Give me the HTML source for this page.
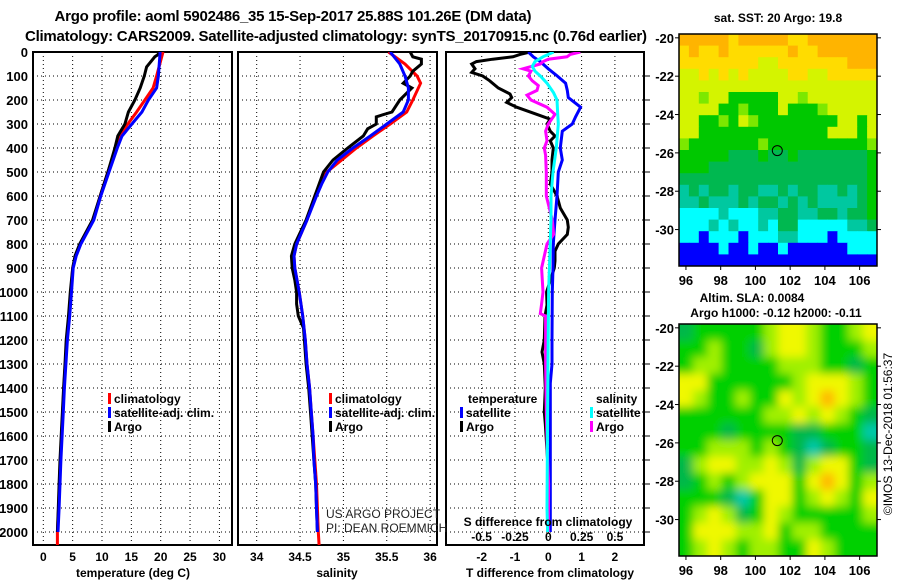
<!DOCTYPE html>
<html><head><meta charset="utf-8">
<style>
html,body{margin:0;padding:0;background:#fff;}
svg{display:block;font-family:"Liberation Sans",sans-serif;}
.b{font-weight:bold;font-size:12px;}
.t{font-weight:bold;font-size:15px;}
</style></head>
<body>
<svg id="fig" width="900" height="580" viewBox="0 0 900 580" xmlns="http://www.w3.org/2000/svg">
<defs>
<clipPath id="c1"><rect x="33" y="52" width="199" height="493"/></clipPath>
<clipPath id="c2"><rect x="238" y="52" width="199" height="493"/></clipPath>
<clipPath id="c3"><rect x="446" y="52" width="198" height="493"/></clipPath>
<clipPath id="cm2"><rect x="679" y="324" width="198" height="232"/></clipPath>
<filter id="blur" x="-10%" y="-10%" width="120%" height="120%"><feGaussianBlur stdDeviation="4.5"/></filter>
</defs>
<text class="t" x="293" y="21" text-anchor="middle" textLength="477">Argo profile: aoml 5902486_35 15-Sep-2017 25.88S 101.26E (DM data)</text>
<text class="t" x="336" y="41" text-anchor="middle" textLength="622">Climatology: CARS2009. Satellite-adjusted climatology: synTS_20170915.nc (0.76d earlier)</text>
<g id="g1"></g>
<g id="g2"></g>
<g id="g3"></g>
<g id="m1"></g>
<g id="m2"></g>
<text class="b" x="778" y="22" text-anchor="middle" font-size="13">sat. SST: 20 Argo: 19.8</text>
<text class="b" x="752" y="302" text-anchor="middle">Altim. SLA: 0.0084</text>
<text class="b" x="776" y="317" text-anchor="middle">Argo h1000: -0.12 h2000: -0.11</text>
<text x="892" y="434" font-size="12" text-anchor="middle" transform="rotate(-90 892 434)">©IMOS 13-Dec-2018 01:56:37</text>
<text x="326" y="518" font-size="12" fill="#222">US ARGO PROJECT</text>
<text x="326" y="532" font-size="12" fill="#222">PI: DEAN ROEMMICH</text>
</svg>
<script>
// ---------- data ----------
const depthTicks=[0,100,200,300,400,500,600,700,800,900,1000,1100,1200,1300,1400,1500,1600,1700,1800,1900,2000];
const tempTicks=[0,5,10,15,20,25,30];
const salTicks=[34,34.5,35,35.5,36];
const tdiffTicks=[-2,-1,0,1,2];
const sdiffTicks=[-0.5,-0.25,0,0.25,0.5];
const sdiffLabels=["-0.5","-0.25","0","0.25","0.5"];

const tClimD=[0,100,150,200,250,300,350,400,500,600,700,800,850,900,1000,1100,1200,1300,1400,1500,1600,1700,1800,1900,2000,2055];
const tClimV=[20.4,19.3,18.7,17.3,15.9,14.4,13.1,12.4,11,9.7,8.5,6.3,5.5,5.0,4.7,4.4,4.0,3.75,3.5,3.3,3.1,2.9,2.75,2.6,2.4,2.4];
const tSatD=[0,100,150,200,250,300,350,400,500,600,700,800,850,900,1000,1100,1200,1300,1400,1500,1600,1700,1800,1900,2000];
const tSatV=[19.9,19.6,19.3,17.9,16.8,15.1,13.4,12.6,11.2,9.8,8.6,6.4,5.6,5.1,4.8,4.5,4.1,3.85,3.6,3.4,3.2,3.0,2.85,2.7,2.5];
const tArgoD=[0,10,20,62,100,150,200,250,300,350,400,500,600,700,800,850,900,1000,1100,1200,1300,1400,1500,1600,1700,1800,1900,2000];
const tArgoV=[19.6,19.6,19.0,17.6,17.2,16.5,15.6,14.5,13.9,12.7,12.2,11,9.7,8.4,6.2,5.4,5.0,4.6,4.3,3.9,3.7,3.45,3.25,3.05,2.85,2.7,2.55,2.4];

const sClimD=[0,50,100,130,200,250,300,350,400,450,500,550,600,700,800,850,900,1000,1100,1200,1300,1400,1500,1600,1700,1800,1900,2000,2055];
const sClimV=[35.52,35.71,35.85,35.89,35.8,35.73,35.54,35.34,35.15,34.98,34.81,34.73,34.67,34.58,34.46,34.43,34.44,34.49,34.53,34.56,34.58,34.61,34.63,34.65,34.67,34.69,34.7,34.71,34.72];
const sSatD=[0,50,100,150,200,250,300,350,400,450,500,550,600,700,800,850,900,1000,1100,1200,1300,1400,1500,1600,1700,1800,1900,2000];
const sSatV=[35.54,35.65,35.71,35.75,35.75,35.69,35.5,35.31,35.11,34.93,34.82,34.75,34.69,34.58,34.46,34.43,34.44,34.49,34.53,34.56,34.58,34.61,34.63,34.65,34.66,34.68,34.69,34.7];
const sArgoD=[0,20,30,50,80,100,130,150,200,250,270,300,320,350,400,450,500,600,700,800,850,900,950,1000,1050,1100,1150,1200,1300,1400,1500,1600,1700,1800,1900,2000];
const sArgoV=[35.77,35.8,35.9,35.9,35.8,35.77,35.69,35.79,35.65,35.56,35.38,35.38,35.28,35.23,35.05,34.88,34.77,34.67,34.57,34.44,34.4,34.41,34.44,34.46,34.46,34.48,34.54,34.55,34.57,34.6,34.62,34.64,34.66,34.68,34.69,34.7];

const dtSatD=[0,20,40,70,100,130,160,190,230,270,300,330,400,450,500,600,700,800,900,1000,1200,1300,1380,1600,1800,2000];
const dtSatV=[-0.6,-0.45,-0.24,0,0.27,0.52,0.57,0.6,0.97,0.82,0.72,0.42,0.36,0.42,0.3,0.26,0.2,0.15,0.14,0.12,0.11,0.11,0.06,0.06,0.06,0.06];
const dtArgoD=[0,10,20,30,40,50,70,85,100,120,150,175,190,210,230,260,280,300,330,350,370,400,450,500,550,600,650,700,730,760,800,830,870,900,1000,1054,1100,1200,1250,1300,1400,1500,1550,1700,2000];
const dtArgoV=[-0.55,-0.85,-1.06,-1.67,-2.16,-2.3,-2.2,-2.3,-1.97,-1.76,-1.5,-1.15,-1.1,-1.25,-0.95,-0.34,0.06,-0.04,0.06,0.2,0.06,0.15,0.11,0.11,0.06,0.26,0.36,0.57,0.6,0.57,0.3,0.2,0.2,0.18,-0.05,-0.04,-0.1,-0.12,-0.19,-0.12,-0.09,-0.12,-0.09,-0.02,0.0];
const dsSatD=[0,20,40,60,80,100,130,170,200,250,300,400,500,600,700,900,1000,1500,1900,2000];
const dsSatV=[0.04,-0.04,-0.1,-0.12,-0.1,-0.06,-0.01,0.04,0.065,0.07,0.075,0.06,0.035,0.02,0.02,0.008,0.002,-0.005,-0.01,-0.005];
const dsArgoD=[0,10,20,30,40,50,70,80,100,120,140,160,180,200,230,260,300,330,370,400,430,500,600,700,760,800,900,1000,1050,1090,1100,1150,1300,1500,1700,1800,2000];
const dsArgoV=[0.24,0.165,0.14,0,-0.04,-0.06,-0.19,-0.13,-0.15,-0.12,-0.075,-0.085,-0.16,-0.13,-0.01,0.05,0,-0.02,-0.01,-0.03,-0.02,-0.015,-0.015,0.03,0.04,-0.01,-0.05,-0.04,-0.05,-0.06,-0.02,-0.02,-0.02,-0.015,-0.005,0.002,0.0];

const mapLonTicks=[96,98,100,102,104,106];
const mapLatTicks=[-20,-22,-24,-26,-28,-30];
const argoLon=101.26, argoLat=-25.88;
const sstRows=[
"OOOOOYOOOOOYYOOOOOOO",
"YOYYOYYYYYYOYYOOOOOO",
"YYYYYYYYLLYYYYYYYOOO",
"LLYLYLYLLLLYYLLYYYYY",
"LLLLLLLLLLLLLLLLLLLL",
"LLGLLgggggLLGLLLLLLL",
"LLLLggGgggLgggGLLLLL",
"LLggGgLGggggggggLLgL",
"LLgggggggggggggLLLgL",
"GgggggggGggggggggggG",
"gggggmmmgmmgmmmmmmmg",
"gggmmmmmmmmmmmmmmmmg",
"mmmmmmmmmmmmmmmmmmmg",
"tmtmmtmmttmtmmttmtmg",
"ttmtttmtmmtmtmttttmg",
"cccctcccttmmttmmtmmg",
"ccctctcctcmmcccccttm",
"ccbcccbcccttcccbcccc",
"bbbbcbbcbbcbbbbbbccc",
"bbbbbbbbbbbbbbbbbbbb"];
const slaRows=[
[1,2,2,2,2,2,3,4,4,3,2,2,3,4],
[2,2,3,2,2,1,3,4,4,3,2,2,2,3],
[2,3,3,2,2,2,2,3,3,3,2,2,1,2],
[4,4,2,2,2,2,2,2,3,4,4,4,3,2],
[4,3,2,2,3,2,2,4,3,4,5,4,3,2],
[2,2,2,2,2,2,3,3,4,3,4,3,2,1],
[2,2,2,1,2,2,2,2,1,1,2,2,2,0],
[2,2,3,3,3,2,3,2,1,0,1,2,2,1],
[1,3,4,4,3,3,4,3,1,3,4,4,2,1],
[1,2,3,2,3,4,4,4,2,4,5,4,2,3],
[2,2,2,1,0,2,4,4,2,3,4,3,2,4],
[2,3,4,3,1,2,4,3,2,2,2,2,2,3],
[2,4,4,4,3,3,4,2,3,3,2,2,2,2],
[2,3,4,3,2,3,3,2,2,4,3,2,2,2]];

// ---------- helpers ----------
const NS="http://www.w3.org/2000/svg";
function mk(parent,tag,attrs,txt){const e=document.createElementNS(NS,tag);for(const k in attrs)e.setAttribute(k,attrs[k]);if(txt!==undefined)e.textContent=txt;parent.appendChild(e);return e;}
const TOP=52,BOT=545;
const yD=d=>TOP+d*0.24;
const xT=v=>43.3+v*5.87;
const xS=v=>256.7+(v-34)*86.7;
const xDT=v=>548.3+v*33.3;
const xDS=v=>548.3+v*133.3;

function panel(g,x0,x1,xs,ticks,clip,labels,name){
  for(const d of depthTicks){ if(d===0)continue;
    const l=mk(g,'line',{x1:x0,x2:x1,y1:yD(d),y2:yD(d),stroke:'#000','stroke-width':1,'stroke-dasharray':'1 3'});
    
    
  }
  ticks.forEach(v=>{
    const l=mk(g,'line',{x1:xs(v),x2:xs(v),y1:TOP,y2:BOT,stroke:'#000','stroke-width':1,'stroke-dasharray':'1 3'});
    
    
  });
  const r=mk(g,'rect',{x:x0,y:TOP,width:x1-x0,height:BOT-TOP,fill:'none',stroke:'#000','stroke-width':2});
  
  
}
function series(g,D,V,xs,color,clip,name,w){
  const pts=D.map((d,i)=>xs(V[i]).toFixed(1)+','+yD(d).toFixed(1)).join(' ');
  const p=mk(g,'polyline',{points:pts,fill:'none',stroke:color,'stroke-width':w||3,'clip-path':'url(#'+clip+')','stroke-linejoin':'miter'});
  
  
}
function xlabels(g,ticks,xs,y,labels,name){
  ticks.forEach((v,i)=>{
    const t=mk(g,'text',{x:xs(v),y:y,'text-anchor':'middle',class:'b'},labels?labels[i]:String(v));
    
    
  });
}
function legendEntry(g,x,y,color,label,name){
  const m=mk(g,'rect',{x:x,y:y-10,width:3,height:11,fill:color});
  
  
  const t=mk(g,'text',{x:x+6,y:y,class:'b'},label);
  
  
}

// ---------- panel 1 ----------
const g1=document.getElementById('g1');
panel(g1,33,232,xT,tempTicks,'c1',null,'temperature');
depthTicks.forEach(d=>{
  const t=mk(g1,'text',{x:28,y:yD(d)+5,'text-anchor':'end',class:'b',style:'font-size:13px'},String(d));
  
  
});
series(g1,tClimD,tClimV,xT,'#ff0000','c1','temperature-climatology-line');
series(g1,tArgoD,tArgoV,xT,'#000000','c1','temperature-argo-line');
series(g1,tSatD,tSatV,xT,'#0000ff','c1','temperature-satellite-line');
xlabels(g1,tempTicks,xT,561,null,'temperature');
let at=mk(g1,'text',{x:133,y:577,'text-anchor':'middle',class:'b'},'temperature (deg C)');


legendEntry(g1,108,403,'#ff0000','climatology','climatology');
legendEntry(g1,108,417,'#0000ff','satellite-adj. clim.','satellite-adj');
legendEntry(g1,108,431,'#000','Argo','argo');

// ---------- panel 2 ----------
const g2=document.getElementById('g2');
panel(g2,238,437,xS,salTicks,'c2',null,'salinity');
series(g2,sClimD,sClimV,xS,'#ff0000','c2','salinity-climatology-line');
series(g2,sArgoD,sArgoV,xS,'#000000','c2','salinity-argo-line');
series(g2,sSatD,sSatV,xS,'#0000ff','c2','salinity-satellite-line');
xlabels(g2,salTicks,xS,561,null,'salinity');
at=mk(g2,'text',{x:337,y:577,'text-anchor':'middle',class:'b'},'salinity');


legendEntry(g2,329,403,'#ff0000','climatology','sal-climatology');
legendEntry(g2,329,417,'#0000ff','satellite-adj. clim.','sal-satellite-adj');
legendEntry(g2,329,431,'#000','Argo','sal-argo');

// ---------- panel 3 ----------
const g3=document.getElementById('g3');
panel(g3,446,644,xDT,tdiffTicks,'c3',null,'difference');
depthTicks.forEach(d=>{ if(d===0)return;
  const l=mk(g3,'line',{x1:644,x2:650,y1:yD(d),y2:yD(d),stroke:'#000','stroke-width':1});
  
  
});
series(g3,dtArgoD,dtArgoV,xDT,'#000000','c3','t-diff-argo-line');
series(g3,dtSatD,dtSatV,xDT,'#0000ff','c3','t-diff-satellite-line');
series(g3,dsArgoD,dsArgoV,xDS,'#ff00ff','c3','s-diff-argo-line');
series(g3,dsSatD,dsSatV,xDS,'#00ffff','c3','s-diff-satellite-line');
xlabels(g3,tdiffTicks,xDT,561,null,'t-diff');
xlabels(g3,sdiffTicks,xDS,541,sdiffLabels,'s-diff');
at=mk(g3,'text',{x:548,y:526,'text-anchor':'middle',class:'b'},'S difference from climatology');


at=mk(g3,'text',{x:550,y:577,'text-anchor':'middle',class:'b'},'T difference from climatology');


at=mk(g3,'text',{x:468,y:403,class:'b'},'temperature');


at=mk(g3,'text',{x:596,y:403,class:'b'},'salinity');


legendEntry(g3,460,417,'#0000ff','satellite','t-satellite');
legendEntry(g3,460,431,'#000','Argo','t-argo');
legendEntry(g3,590,417,'#00ffff','satellite','s-satellite');
legendEntry(g3,590,431,'#ff00ff','Argo','s-argo');

// ---------- maps ----------
const LON0=95.6,LON1=107,LAT0=-19.8,LAT1=-31.9;
function mapAxes(g,x0,y0,w,h,lonY,name){
  const lx=v=>x0+(v-LON0)/(LON1-LON0)*w;
  const ly=v=>y0+(v-LAT0)/(LAT1-LAT0)*h;
  const r=mk(g,'rect',{x:x0,y:y0,width:w,height:h,fill:'none',stroke:'#000','stroke-width':1.5});
  
  
  mapLatTicks.forEach(v=>{
    const t=mk(g,'text',{x:x0-5,y:ly(v)+5,'text-anchor':'end',class:'b',style:'font-size:13px'},String(v));
    
    
    mk(g,'line',{x1:x0-4,x2:x0,y1:ly(v),y2:ly(v),stroke:'#000'});
    mk(g,'line',{x1:x0+w,x2:x0+w+4,y1:ly(v),y2:ly(v),stroke:'#000'});
  });
  mapLonTicks.forEach(v=>{
    const t=mk(g,'text',{x:lx(v),y:lonY,'text-anchor':'middle',class:'b',style:'font-size:13px'},String(v));
    
    
    mk(g,'line',{x1:lx(v),x2:lx(v),y1:y0+h,y2:y0+h+4,stroke:'#000'});
  });
  const c=mk(g,'circle',{cx:lx(argoLon),cy:ly(argoLat),r:5,fill:'none',stroke:'#000','stroke-width':1});
  
  
}
const sstColors={O:'#ffb400',Y:'#ffdc00',L:'#d4f400',G:'#7ce800',g:'#00c800',m:'#00b850',t:'#00c8a0',c:'#00ffff',b:'#0000ff'};
const m1=document.getElementById('m1');
{const x0=679,y0=34,w=198,h=232,nr=sstRows.length,nc=sstRows[0].length;
 sstRows.forEach((row,i)=>{[...row].forEach((ch,j)=>{
   const cell=mk(m1,'rect',{x:(x0+j*w/nc).toFixed(2),y:(y0+i*h/nr).toFixed(2),width:(w/nc+0.5).toFixed(2),height:(h/nr+0.5).toFixed(2),fill:sstColors[ch]});
   
   
 });});
 mapAxes(m1,x0,y0,w,h,285,'sst-map');}
const slaColors=['#00c8a8','#00b848','#00d000','#a0f000','#f0f800','#ffb800'];
const m2=document.getElementById('m2');
{const x0=679,y0=324,w=198,h=232,nr=slaRows.length,nc=slaRows[0].length;
 mk(m2,'rect',{x:x0,y:y0,width:w,height:h,fill:'#00d000'});
 const bg=mk(m2,'g',{'clip-path':'url(#cm2)'});
 const inner=mk(bg,'g',{filter:'url(#blur)'});
 slaRows.forEach((row,i)=>{row.forEach((v,j)=>{
   const xx=x0+j*w/nc-(j===0?20:0), ww=w/nc+1+(j===0?20:0)+(j===nc-1?20:0);
   const yy=y0+i*h/nr-(i===0?20:0), hh=h/nr+1+(i===0?20:0)+(i===nr-1?20:0);
   const cell=mk(inner,'rect',{x:xx.toFixed(2),y:yy.toFixed(2),width:ww.toFixed(2),height:hh.toFixed(2),fill:slaColors[v]});
   
   
 });});
 mapAxes(m2,x0,y0,w,h,575,'sla-map');}
</script>
</body></html>
